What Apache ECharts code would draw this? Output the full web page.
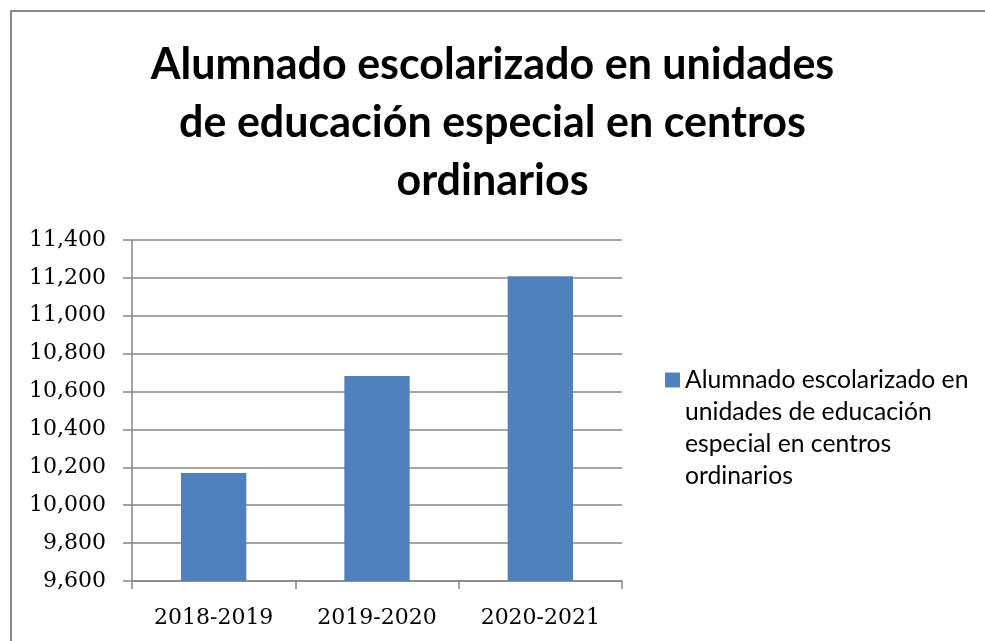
<!DOCTYPE html>
<html>
<head>
<meta charset="utf-8">
<script src="https://cdn.jsdelivr.net/npm/echarts@6/dist/echarts.min.js"></script>
<style>html,body{margin:0;padding:0;background:#fff;}#c{width:985px;height:641px;}</style>
</head>
<body>
<div id="c"></div>
<script>
const titleText = 'Alumnado escolarizado en unidades\nde educación especial en centros\nordinarios';
const categories = ['2018-2019', '2019-2020', '2020-2021'];
const seriesName = 'Alumnado escolarizado en unidades de educación especial en centros ordinarios';
const legendLines = ['Alumnado escolarizado en', 'unidades de educación', 'especial en centros', 'ordinarios'];
const values = [10170, 10682, 11208];
const yMin = 9600, yMax = 11400, yStep = 200;

const chart = echarts.init(document.getElementById('c'), null, {renderer: 'canvas'});
chart.setOption({
  backgroundColor: '#ffffff',
  animation: false,
  title: {
    text: titleText,
    left: 'center',
    top: 31,
    textStyle: {fontFamily: 'Lato', fontWeight: 'bold', fontSize: 43, lineHeight: 58, color: '#000'}
  },
  legend: {
    left: 660,
    top: 359,
    orient: 'vertical',
    itemWidth: 15,
    itemHeight: 111,
    icon: 'path://M0,0 L15,0 L15,15 L0,15 Z M0,111',
    data: [seriesName],
    formatter: () => legendLines.join('\n'),
    textStyle: {fontFamily: 'Lato', fontSize: 24.7, lineHeight: 32, color: '#000'}
  },
  grid: {left: 132, right: 363, top: 240, bottom: 60, containLabel: false},
  xAxis: {
    type: 'category',
    data: categories,
    axisLine: {lineStyle: {color: '#868686', width: 1.5}},
    axisTick: {show: true, length: 8, lineStyle: {color: '#868686', width: 1.5}},
    axisLabel: {fontFamily: 'DejaVu Serif', fontSize: 22, color: '#000', margin: 26}
  },
  yAxis: {
    type: 'value',
    min: yMin, max: yMax, interval: yStep,
    axisLine: {show: true, lineStyle: {color: '#868686', width: 1.5}},
    axisTick: {show: true, length: 9, lineStyle: {color: '#868686', width: 1.5}},
    splitLine: {lineStyle: {color: '#868686', width: 1.5}},
    axisLabel: {
      fontFamily: 'DejaVu Serif', fontSize: 22, color: '#000', margin: 26,
      formatter: v => v.toLocaleString('en-US')
    }
  },
  series: [{
    name: seriesName,
    type: 'bar',
    data: values,
    barWidth: '40%',
    itemStyle: {color: '#4F81BD'}
  }],
  graphic: [{
    type: 'polyline',
    shape: {points: [[11, 641], [11, 11], [985, 11]]},
    style: {stroke: '#898989', lineWidth: 2, fill: null},
    silent: true
  }]
});
</script>
</body>
</html>
